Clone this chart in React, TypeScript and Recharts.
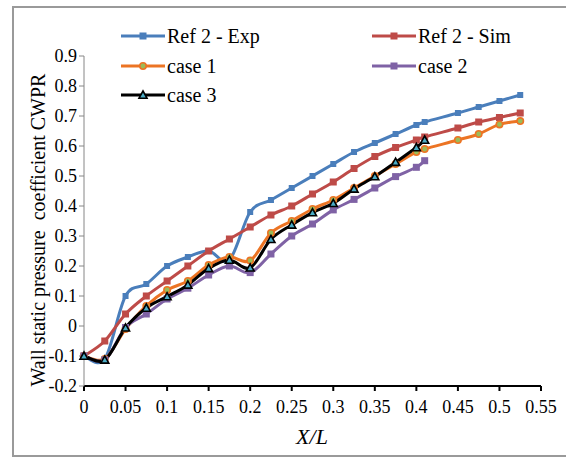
import { LineChart, Line, XAxis, YAxis } from "recharts";

// X/L stations shared by all series
const xValues = [
  0, 0.025, 0.05, 0.075, 0.1, 0.125, 0.15, 0.175, 0.2, 0.225, 0.25, 0.275,
  0.3, 0.325, 0.35, 0.375, 0.4, 0.41, 0.45, 0.475, 0.5, 0.525,
];

const refExp = [
  -0.1, -0.11, 0.1, 0.14, 0.2, 0.23, 0.25, 0.22, 0.38, 0.42, 0.46, 0.5, 0.54,
  0.58, 0.61, 0.64, 0.67, 0.68, 0.71, 0.73, 0.75, 0.77,
];
const refSim = [
  -0.1, -0.05, 0.04, 0.1, 0.15, 0.2, 0.25, 0.29, 0.33, 0.37, 0.4, 0.44, 0.48,
  0.525, 0.565, 0.595, 0.62, 0.63, 0.66, 0.68, 0.695, 0.71,
];
const case1 = [
  -0.1, -0.11, -0.01, 0.067, 0.12, 0.15, 0.203, 0.23, 0.218, 0.31, 0.35, 0.39,
  0.42, 0.46, 0.5, 0.54, 0.58, 0.59, 0.62, 0.64, 0.672, 0.683,
];
const case2 = [
  -0.1, -0.113, -0.005, 0.04, 0.09, 0.126, 0.17, 0.2, 0.178, 0.24, 0.3, 0.34,
  0.387, 0.422, 0.46, 0.498, 0.529, 0.551,
];
const case3 = [
  -0.1, -0.113, -0.006, 0.06, 0.098, 0.137, 0.192, 0.22, 0.194, 0.289, 0.337,
  0.378, 0.409, 0.457, 0.498, 0.546, 0.595, 0.62,
];

const xTicks = [0, 0.05, 0.1, 0.15, 0.2, 0.25, 0.3, 0.35, 0.4, 0.45, 0.5, 0.55];
const yTicks = [-0.2, -0.1, 0, 0.1, 0.2, 0.3, 0.4, 0.5, 0.6, 0.7, 0.8, 0.9];

const BLUE = "#4a7ebb";
const RED = "#be4b48";
const ORANGE = "#ec7424";
const GREEN = "#9bbb59";
const PURPLE = "#7f62a5";
const TEAL = "#4bacc6";

const FONT = "Liberation Serif";

const chartData = xValues.map((x, i) => ({
  x,
  refExp: refExp[i],
  refSim: refSim[i],
  case1: case1[i],
  case2: i < case2.length ? case2[i] : null,
  case3: i < case3.length ? case3[i] : null,
}));

// Excel-like smoothed line (Catmull-Rom through the points)
function smoothCurve(context: any) {
  let pts: number[][] = [];
  return {
    areaStart() {},
    areaEnd() {},
    lineStart() {
      pts = [];
    },
    lineEnd() {
      const n = pts.length;
      if (!n) return;
      context.moveTo(pts[0][0], pts[0][1]);
      for (let i = 0; i < n - 1; i++) {
        const p0 = pts[Math.max(i - 1, 0)];
        const p1 = pts[i];
        const p2 = pts[i + 1];
        const p3 = pts[Math.min(i + 2, n - 1)];
        context.bezierCurveTo(
          p1[0] + (p2[0] - p0[0]) / 6,
          p1[1] + (p2[1] - p0[1]) / 6,
          p2[0] - (p3[0] - p1[0]) / 6,
          p2[1] - (p3[1] - p1[1]) / 6,
          p2[0],
          p2[1]
        );
      }
    },
    point(x: number, y: number) {
      pts.push([+x, +y]);
    },
  };
}

function squareDot(color: string, size: number) {
  return (p: any) => {
    if (p.cy == null || p.value == null) return <g key={p.index} />;
    return (
      <rect
        key={p.index}
        x={p.cx - size / 2}
        y={p.cy - size / 2}
        width={size}
        height={size}
        fill={color}
      />
    );
  };
}

function circleDot(p: any) {
  if (p.cy == null || p.value == null) return <g key={p.index} />;
  return (
    <circle key={p.index} cx={p.cx} cy={p.cy} r={3.2} fill={GREEN} stroke={ORANGE} strokeWidth={1.6} />
  );
}

function triangleDot(p: any) {
  if (p.cy == null || p.value == null) return <g key={p.index} />;
  const s = 4;
  return (
    <path
      key={p.index}
      d={`M${p.cx},${p.cy - s} L${p.cx + s},${p.cy + s * 0.8} L${p.cx - s},${p.cy + s * 0.8} Z`}
      fill={TEAL}
      stroke="#000"
      strokeWidth={1.6}
    />
  );
}

function LegendIcon({ kind, color }: { kind: string; color: string }) {
  return (
    <svg width={44} height={12} style={{ display: "block" }}>
      <line x1={0} y1={6} x2={44} y2={6} stroke={color} strokeWidth={3} />
      {kind === "square" && <rect x={18.5} y={2.5} width={7} height={7} fill={color} />}
      {kind === "circle" && <circle cx={22} cy={6} r={3.2} fill={GREEN} stroke={ORANGE} strokeWidth={1.6} />}
      {kind === "triangle" && (
        <path d="M22,2 L26,9.2 L18,9.2 Z" fill={TEAL} stroke="#000" strokeWidth={1.6} />
      )}
    </svg>
  );
}

const legendItems = [
  { label: "Ref 2 - Exp", kind: "square", color: BLUE, left: 121, top: 36 },
  { label: "Ref 2 - Sim", kind: "square", color: RED, left: 372, top: 36 },
  { label: "case 1", kind: "circle", color: ORANGE, left: 121, top: 66 },
  { label: "case 2", kind: "square", color: PURPLE, left: 372, top: 66 },
  { label: "case 3", kind: "triangle", color: "#000", left: 121, top: 95 },
];

export default function App() {
  return (
    <div
      style={{
        position: "absolute",
        left: 0,
        top: 0,
        width: 566,
        height: 461,
        overflow: "hidden",
        background: "#fff",
        fontFamily: FONT,
      }}
    >
      <div
        style={{
          position: "absolute",
          left: 12,
          top: 6,
          width: 600,
          height: 447,
          border: "2px solid #9a9a9a",
        }}
      />
      <div style={{ position: "absolute", left: 0, top: 0 }}>
        <LineChart
          width={566}
          height={461}
          data={chartData}
          margin={{ top: 56, right: 25, bottom: 25, left: 24 }}
          style={{ fontFamily: FONT }}
        >
          <XAxis
            dataKey="x"
            type="number"
            domain={[0, 0.55]}
            ticks={xTicks}
            interval={0}
            height={50}
            stroke="#000"
            strokeWidth={2}
            tickSize={5}
            tickMargin={9}
            tick={{ fill: "#000", fontSize: 18, fontFamily: FONT }}
            label={{
              content: () => (
                <text
                  x={312}
                  y={444}
                  textAnchor="middle"
                  style={{ fontSize: 22, fontStyle: "italic", fontFamily: FONT, fill: "#000" }}
                >
                  X/L
                </text>
              ),
            }}
          />
          <YAxis
            type="number"
            domain={[-0.2, 0.9]}
            ticks={yTicks}
            interval={0}
            width={60}
            stroke="#868686"
            tickSize={5}
            tickMargin={2}
            tick={{ fill: "#000", fontSize: 18, fontFamily: FONT }}
            label={{
              content: () => (
                <text
                  x={38}
                  y={230}
                  transform="rotate(-90 38 230)"
                  textAnchor="middle"
                  dominantBaseline="central"
                  style={{ fontSize: 20, fontFamily: FONT, fill: "#000", whiteSpace: "pre" }}
                >
                  Wall static pressure  coefficient CWPR
                </text>
              ),
            }}
          />
          <Line dataKey="refExp" type={smoothCurve as any} stroke={BLUE} strokeWidth={3} dot={squareDot(BLUE, 6)} activeDot={false} isAnimationActive={false} />
          <Line dataKey="refSim" type={smoothCurve as any} stroke={RED} strokeWidth={3} dot={squareDot(RED, 7)} activeDot={false} isAnimationActive={false} />
          <Line dataKey="case1" type={smoothCurve as any} stroke={ORANGE} strokeWidth={3} dot={circleDot} activeDot={false} isAnimationActive={false} />
          <Line dataKey="case2" type={smoothCurve as any} stroke={PURPLE} strokeWidth={3} dot={squareDot(PURPLE, 7)} activeDot={false} isAnimationActive={false} />
          <Line dataKey="case3" type={smoothCurve as any} stroke="#000" strokeWidth={3} dot={triangleDot} activeDot={false} isAnimationActive={false} />
        </LineChart>
      </div>
      {legendItems.map((it) => (
        <div
          key={it.label}
          style={{
            position: "absolute",
            left: it.left,
            top: it.top - 12,
            height: 24,
            display: "flex",
            alignItems: "center",
            gap: 2,
            fontSize: 20,
            whiteSpace: "nowrap",
            color: "#000",
          }}
        >
          <LegendIcon kind={it.kind} color={it.color} />
          <span>{it.label}</span>
        </div>
      ))}
    </div>
  );
}
